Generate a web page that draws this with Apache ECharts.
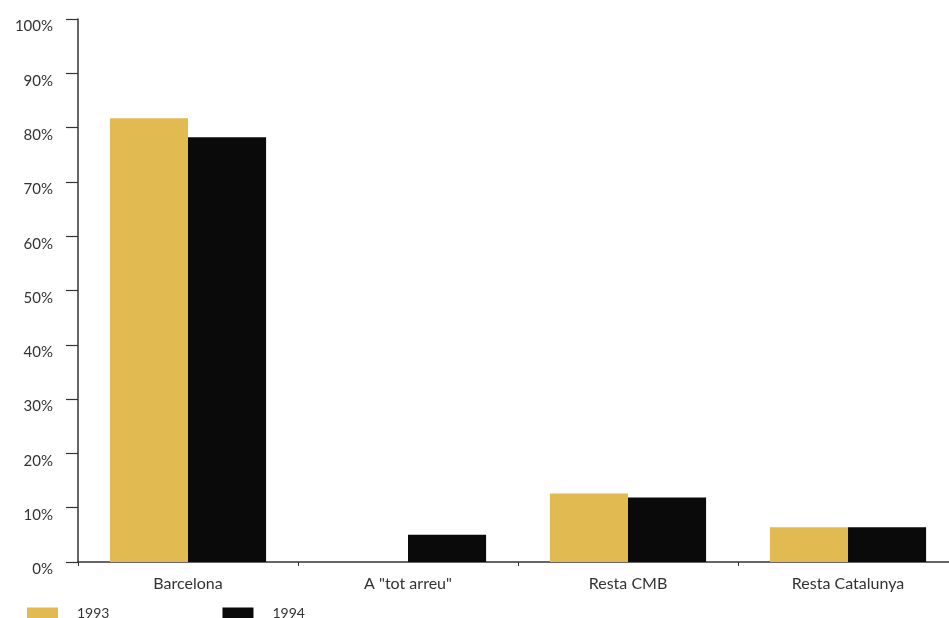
<!DOCTYPE html>
<html>
<head>
<meta charset="utf-8">
<script src="https://cdn.jsdelivr.net/npm/echarts@6/dist/echarts.min.js"></script>
<style>
html,body{margin:0;padding:0;background:#fff;}
#chart{width:949px;height:618px;}
</style>
</head>
<body>
<div id="chart"></div>
<script>
const categories = ['Barcelona', 'A "tot arreu"', 'Resta CMB', 'Resta Catalunya'];
const seriesNames = ['1993', '1994'];
const values1993 = [81.7, 0, 12.6, 6.4];
const values1994 = [78.2, 5.0, 11.9, 6.4];
const colors = ['#E1BA52', '#0a0a0a'];

const FONT = 'Lato';
const chart = echarts.init(document.getElementById('chart'), null, {renderer: 'canvas'});
chart.setOption({
  backgroundColor: '#ffffff',
  animation: false,
  textStyle: {fontFamily: FONT},
  legend: {
    left: 27,
    top: 606,
    padding: 0,
    itemWidth: 31,
    itemHeight: 11,
    itemGap: 113,
    icon: 'rect',
    data: seriesNames,
    textStyle: {fontFamily: FONT, fontSize: 14, color: '#333', padding: [0, 0, 0, 14]}
  },
  grid: {left: 78, width: 880, top: 19, bottom: 56, containLabel: false, outerBoundsMode: 'none'},
  xAxis: {
    type: 'category',
    data: categories,
    axisLine: {show: true, lineStyle: {color: '#333', width: 1.5}},
    axisTick: {show: true, length: 4, lineStyle: {color: '#333', width: 1}},
    axisLabel: {fontFamily: FONT, fontSize: 16, color: '#333', margin: 14},
    splitLine: {show: false}
  },
  yAxis: {
    type: 'value',
    min: 0,
    max: 100,
    interval: 10,
    axisLine: {show: true, lineStyle: {color: '#333', width: 1.5}},
    axisTick: {show: true, length: 12, lineStyle: {color: '#333', width: 1.2}},
    axisLabel: {
      fontFamily: FONT, fontSize: 15, color: '#333', margin: 25,
      formatter: '{value}%', verticalAlign: 'top'
    },
    splitLine: {show: false}
  },
  series: [
    {
      name: seriesNames[0], type: 'bar', data: values1993,
      itemStyle: {color: colors[0]},
      barGap: '0%', barCategoryGap: '29%'
    },
    {
      name: seriesNames[1], type: 'bar', data: values1994,
      itemStyle: {color: colors[1]},
      barGap: '0%', barCategoryGap: '29%'
    }
  ]
});
</script>
</body>
</html>
